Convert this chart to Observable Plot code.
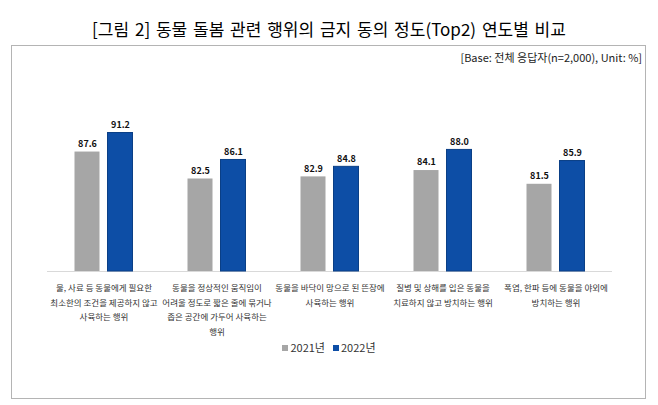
<!DOCTYPE html>
<html><head><meta charset="utf-8">
<script src="https://cdn.jsdelivr.net/npm/d3@7"></script>
<script src="https://cdn.jsdelivr.net/npm/@observablehq/plot@0.6"></script>
<style>
body{margin:0;background:#fff;font-family:"Noto Sans CJK KR","Noto Sans",sans-serif;}
#wrap{position:relative;width:658px;height:405px;overflow:hidden;background:#fff;}
#title{position:absolute;top:16px;left:0;width:658px;text-align:center;font-size:17px;font-weight:400;word-spacing:2px;color:#000;line-height:26px;}
#box{position:absolute;left:11px;top:45px;width:635px;height:354px;border:1.5px solid #b4b4b4;box-sizing:border-box;}
#sub{position:absolute;right:16px;top:49px;font-size:11px;color:#222;}
#chart{position:absolute;left:0;top:62px;}
#legend{position:absolute;top:339px;left:0;width:658px;text-align:center;font-size:11px;color:#333;}
#legend span.sw{display:inline-block;width:6px;height:6px;margin-right:2px;vertical-align:middle;position:relative;top:-1px;}
#legend span.it{margin:0 4px;}
</style></head>
<body><div id="wrap">
<div id="title">[그림 2] 동물 돌봄 관련 행위의 금지 동의 정도(Top2) 연도별 비교</div>
<div id="box"></div>
<div id="sub">[Base: 전체 응답자(n=2,000), Unit: %]</div>
<div id="chart"></div>
<div id="legend"></div>
</div>
<script>
const categories = [
  "물, 사료 등 동물에게 필요한\n최소한의 조건을 제공하지 않고\n사육하는 행위",
  "동물을 정상적인 움직임이\n어려울 정도로 짧은 줄에 묶거나\n좁은 공간에 가두어 사육하는\n행위",
  "동물을 바닥이 망으로 된 뜬장에\n사육하는 행위",
  "질병 및 상해를 입은 동물을\n치료하지 않고 방치하는 행위",
  "폭염, 한파 등에 동물을 야외에\n방치하는 행위"
];
const years = ["2021년", "2022년"];
const v2021 = [87.6, 82.5, 82.9, 84.1, 81.5];
const v2022 = [91.2, 86.1, 84.8, 88.0, 85.9];
const colors = ["#a6a6a6", "#0d4ea6"];

const data = [];
categories.forEach((c, i) => {
  data.push({cat: c, year: years[0], value: v2021[i]});
  data.push({cat: c, year: years[1], value: v2022[i]});
});

const base = 65;
const plot = Plot.plot({
  width: 658,
  height: 300,
  marginTop: 24,
  marginBottom: 91,
  marginLeft: 46.5,
  marginRight: 46.5,
  style: {fontFamily: '"Noto Sans CJK KR", sans-serif', background: "transparent"},
  fx: {domain: categories, padding: 0, axis: null},
  x: {domain: years, paddingInner: 0.235, paddingOuter: 0.78, axis: null},
  y: {domain: [base, 100], axis: null},
  color: {domain: years, range: colors},
  marks: [
    Plot.ruleY([base], {stroke: "#d9d9d9", strokeWidth: 1}),
    Plot.barY(data, {fx: "cat", x: "year", y1: () => base, y2: "value", fill: "year",
      stroke: d => d.year === years[1] ? "#0a3f86" : "none", strokeWidth: 1}),
    Plot.text(data, {fx: "cat", x: "year", y: "value", text: d => d3.format(".1f")(d.value),
      dy: -8, fontSize: 9, fontWeight: "bold", fill: "#111"}),
    Plot.axisFx({anchor: "bottom", tickSize: 0, tickPadding: 9, fontSize: 8.5, lineHeight: 1.73,
      fill: "#333", label: null, tickFormat: d => d})
  ]
});
document.getElementById("chart").appendChild(plot);

const legend = document.getElementById("legend");
years.forEach((y, i) => {
  const it = document.createElement("span");
  it.className = "it";
  const sw = document.createElement("span");
  sw.className = "sw";
  sw.style.background = colors[i];
  it.appendChild(sw);
  it.appendChild(document.createTextNode(y));
  legend.appendChild(it);
});
</script>
</body></html>
